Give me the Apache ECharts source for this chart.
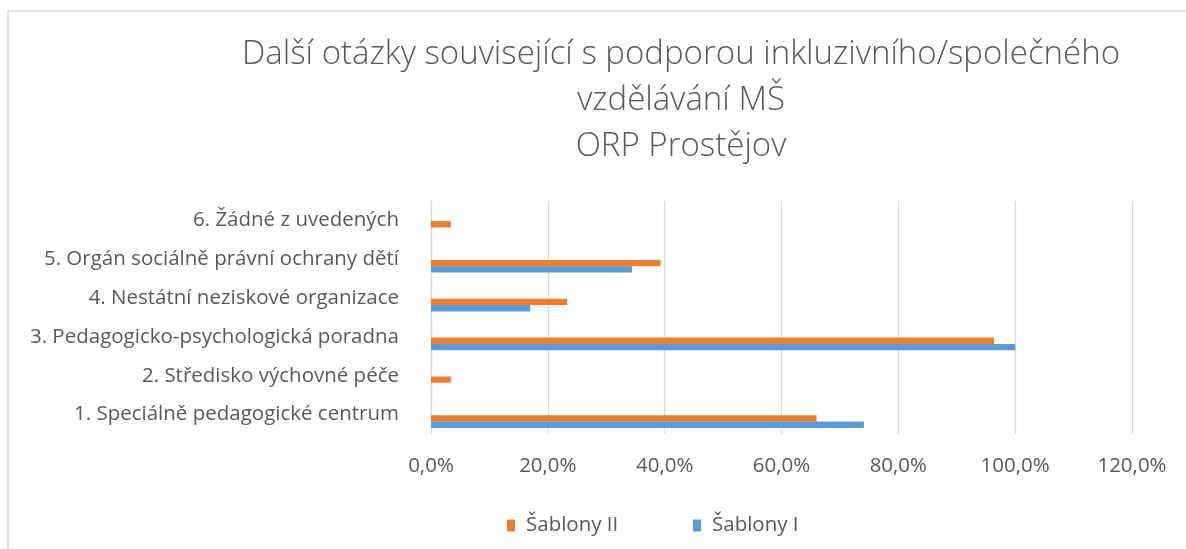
<!DOCTYPE html>
<html>
<head>
<meta charset="utf-8">
<script src="https://cdn.jsdelivr.net/npm/echarts@6/dist/echarts.min.js"></script>
<style>
  html, body { margin: 0; padding: 0; background: #fff; }
  #chart-container { width: 1186px; height: 549px; }
</style>
</head>
<body>
<div id="chart-container"></div>
<script>
var categories = [
  "1. Speciálně pedagogické centrum",
  "2. Středisko výchovné péče",
  "3. Pedagogicko-psychologická poradna",
  "4. Nestátní neziskové organizace",
  "5. Orgán sociálně právní ochrany dětí",
  "6. Žádné z uvedených"
];
var sablonyII = [66.0, 3.4, 96.4, 23.3, 39.3, 3.4];
var sablonyI = [74.1, 0, 100.0, 17.0, 34.4, 0];
var titleLines = [
  "Další otázky související s podporou inkluzivního/společného",
  "vzdělávání MŠ",
  "ORP Prostějov"
];

var FONT = "Open Sans";
var TEXT = "#595959";
var LABEL_SIZE = 20.5;

var dom = document.getElementById("chart-container");
var myChart = echarts.init(dom, null, { renderer: "canvas" });

function pct(v) {
  return v.toFixed(1).replace(".", ",") + "%";
}

var option = {
  animation: false,
  title: {
    text: titleLines.join("\n"),
    left: 676,
    top: 27,
    textAlign: "center",
    textStyle: {
      fontFamily: FONT,
      fontSize: 33,
      fontWeight: 300,
      color: TEXT,
      lineHeight: 46
    }
  },
  // frame of the chart area, right and bottom edges run off the picture
  graphic: [
    {
      type: "rect",
      shape: { x: 8, y: 11, width: 1200, height: 560 },
      style: { fill: "none", stroke: "#d9d9d9", lineWidth: 1.5 },
      silent: true
    }
  ],
  legend: [
    {
      data: ["Šablony II"],
      left: 502,
      top: 510,
      icon: "rect",
      itemWidth: 8,
      itemHeight: 12,
      textStyle: { fontFamily: FONT, fontSize: LABEL_SIZE, color: TEXT, padding: [0, 0, 0, 6] }
    },
    {
      data: ["Šablony I"],
      left: 688,
      top: 510,
      icon: "rect",
      itemWidth: 8,
      itemHeight: 12,
      textStyle: { fontFamily: FONT, fontSize: LABEL_SIZE, color: TEXT, padding: [0, 0, 0, 6] }
    }
  ],
  grid: [
    { left: 431, width: 701, top: 201, height: 233 },
    { left: 431, width: 701, top: 208, height: 233 }
  ],
  xAxis: [
    {
      gridIndex: 0,
      type: "value",
      min: 0,
      max: 120,
      interval: 20,
      axisLine: { show: false },
      axisTick: { show: false },
      splitLine: { lineStyle: { color: "#d9d9d9", width: 1.3 } },
      axisLabel: {
        fontFamily: FONT,
        fontSize: LABEL_SIZE,
        color: TEXT,
        margin: 22,
        formatter: pct
      }
    },
    { gridIndex: 1, type: "value", min: 0, max: 120, show: false }
  ],
  yAxis: [
    {
      gridIndex: 0,
      type: "category",
      data: categories,
      axisLine: { lineStyle: { color: "#d9d9d9", width: 1.3 } },
      axisTick: { show: false },
      axisLabel: { fontFamily: FONT, fontSize: LABEL_SIZE, color: TEXT, margin: 32 }
    },
    { gridIndex: 1, type: "category", data: categories, show: false }
  ],
  series: [
    {
      name: "Šablony II",
      type: "bar",
      xAxisIndex: 1,
      yAxisIndex: 1,
      data: sablonyII,
      barWidth: 6.3,
      barGap: "0%",
      itemStyle: { color: "#ed7d31" }
    },
    {
      name: "Šablony I",
      type: "bar",
      xAxisIndex: 1,
      yAxisIndex: 1,
      data: sablonyI,
      barWidth: 6.3,
      barGap: "0%",
      itemStyle: { color: "#5b9bd5" }
    }
  ]
};

myChart.setOption(option);
</script>
</body>
</html>
